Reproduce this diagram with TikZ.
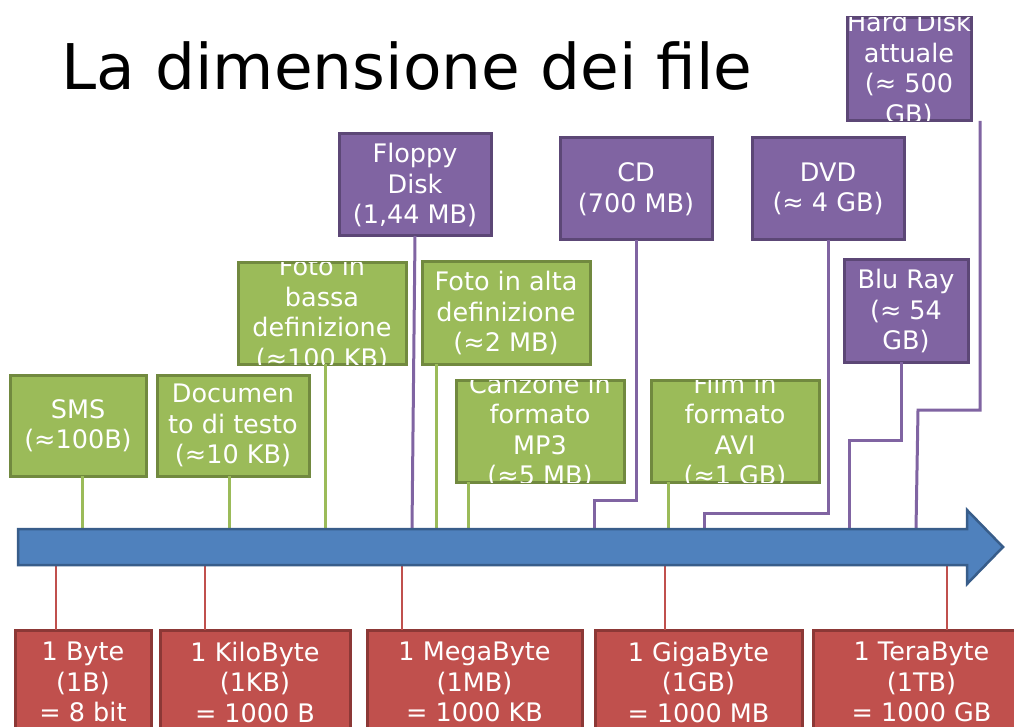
\documentclass[tikz,border=0pt]{standalone}
\usepackage{fontspec}
\setmainfont{DejaVu Sans}
\definecolor{gfill}{HTML}{9BBB59}\definecolor{gline}{HTML}{71893F}
\definecolor{pfill}{HTML}{8064A2}\definecolor{pline}{HTML}{5C4776}
\definecolor{rfill}{HTML}{C0504D}\definecolor{rline}{HTML}{8C3836}
\definecolor{bfill}{HTML}{4F81BD}\definecolor{bline}{HTML}{385D8A}
\tikzset{
  boxbase/.style={rectangle, inner sep=0pt, outer sep=0pt, line width=3pt},
  gbox/.style={boxbase, fill=gfill, draw=gline},
  pbox/.style={boxbase, fill=pfill, draw=pline},
  rbox/.style={boxbase, fill=rfill, draw=rline},
  txt/.style={text=white, align=center, inner sep=0pt, font=\fontsize{25.5}{30.5}\selectfont},
  gconn/.style={draw=gfill, line width=3pt},
  pconn/.style={draw=pfill, line width=3pt},
  rconn/.style={draw=rfill, line width=2.5pt},
}
\newcommand\mybox[7]{%
  \node[#6, minimum width={#4-#2}, minimum height={#5-#3}] (#1) at ({(#2+#4)/2},{(#3+#5)/2}) {};
  \begin{scope}\clip (#1.south west) rectangle (#1.north east);
  \node[txt] at (#1.center) {#7};
  \end{scope}}
\begin{document}
\begin{tikzpicture}[x=1pt,y=-1pt]
\useasboundingbox (0,0) rectangle (1014,727);
\fill[white] (0,0) rectangle (1014,727);
\node[anchor=base, inner sep=0pt, font=\fontsize{63}{70}\selectfont] (title) at (407,90) {La dimensione dei file};

% end points on the arrow
\coordinate (e1) at (82,529);
\coordinate (e2) at (229,529);
\coordinate (e3) at (325,529);
\coordinate (e4) at (436,529);
\coordinate (e5) at (468,529);
\coordinate (e6) at (668,529);
\coordinate (efl) at (412,529);
\coordinate (ecd) at (594,529);
\coordinate (ecdk) at (594,500);
\coordinate (edvd) at (704,529);
\coordinate (edvdk) at (704,513);
\coordinate (ebr) at (849,529);
\coordinate (ebrk) at (849,440);
\coordinate (ehd) at (916,529);
\coordinate (ehdk) at (918,410);
\coordinate (ehds) at (980,121);
\coordinate (k1) at (56,565);
\coordinate (k2) at (205,565);
\coordinate (k3) at (402,565);
\coordinate (k4) at (665,565);
\coordinate (k5) at (947,565);

% boxes
\mybox{sms}{10}{375}{146}{476}{gbox}{SMS\\(≈100B)}
\mybox{doc}{157}{375}{309}{476}{gbox}{Documen\\to di testo\\(≈10 KB)}
\mybox{fb}{238}{263}{406}{364}{gbox}{Foto in\\bassa\\definizione\\(≈100 KB)}
\mybox{fa}{422}{262}{590}{364}{gbox}{Foto in alta\\definizione\\(≈2 MB)}
\mybox{mp3}{456}{380}{624}{482}{gbox}{Canzone in\\formato\\MP3\\(≈5 MB)}
\mybox{avi}{651}{380}{819}{482}{gbox}{Film in\\formato\\AVI\\(≈1 GB)}
\mybox{fl}{339}{134}{491}{236}{pbox}{Floppy\\Disk\\(1,44 MB)}
\mybox{cd}{560}{138}{712}{240}{pbox}{CD\\(700 MB)}
\mybox{dvd}{752}{138}{904}{240}{pbox}{DVD\\(≈ 4 GB)}
\mybox{br}{844}{260}{968}{362}{pbox}{Blu Ray\\(≈ 54\\GB)}
\mybox{hd}{847}{18}{971}{121}{pbox}{Hard Disk\\attuale\\(≈ 500\\GB)}
\mybox{r1}{15}{630}{151}{734}{rbox}{1 Byte\\(1B)\\= 8 bit}
\mybox{r2}{160}{630}{350}{734}{rbox}{1 KiloByte\\(1KB)\\= 1000 B}
\mybox{r3}{367}{630}{582}{734}{rbox}{1 MegaByte\\(1MB)\\= 1000 KB}
\mybox{r4}{595}{630}{802}{734}{rbox}{1 GigaByte\\(1GB)\\= 1000 MB}
\mybox{r5}{813}{630}{1030}{734}{rbox}{1 TeraByte\\(1TB)\\= 1000 GB}

% connectors
\draw[gconn] (sms.south -| e1) -- (e1);
\draw[gconn] (doc.south -| e2) -- (e2);
\draw[gconn] (fb.south -| e3) -- (e3);
\draw[gconn] (fa.south -| e4) -- (e4);
\draw[gconn] (mp3.south -| e5) -- (e5);
\draw[gconn] (avi.south -| e6) -- (e6);
\draw[pconn] (fl.south) -- (efl);
\draw[pconn] (cd.south) |- (ecdk) -- (ecd);
\draw[pconn] (dvd.south) |- (edvdk) -- (edvd);
\draw[pconn] ([xshift=-5pt]br.south) |- (ebrk) -- (ebr);
\draw[pconn] (ehds) |- (ehdk) -- (ehd);
\draw[rconn] (r1.north -| k1) -- (k1);
\draw[rconn] (r2.north -| k2) -- (k2);
\draw[rconn] (r3.north -| k3) -- (k3);
\draw[rconn] (r4.north -| k4) -- (k4);
\draw[rconn] (r5.north -| k5) -- (k5);

% timeline arrow
\filldraw[fill=bfill, draw=bline, line width=2.5pt, line join=miter]
  (18,529) -- (967,529) -- (967,510) -- (1003,547) -- (967,584) -- (967,565) -- (18,565) -- cycle;
\end{tikzpicture}
\end{document}
